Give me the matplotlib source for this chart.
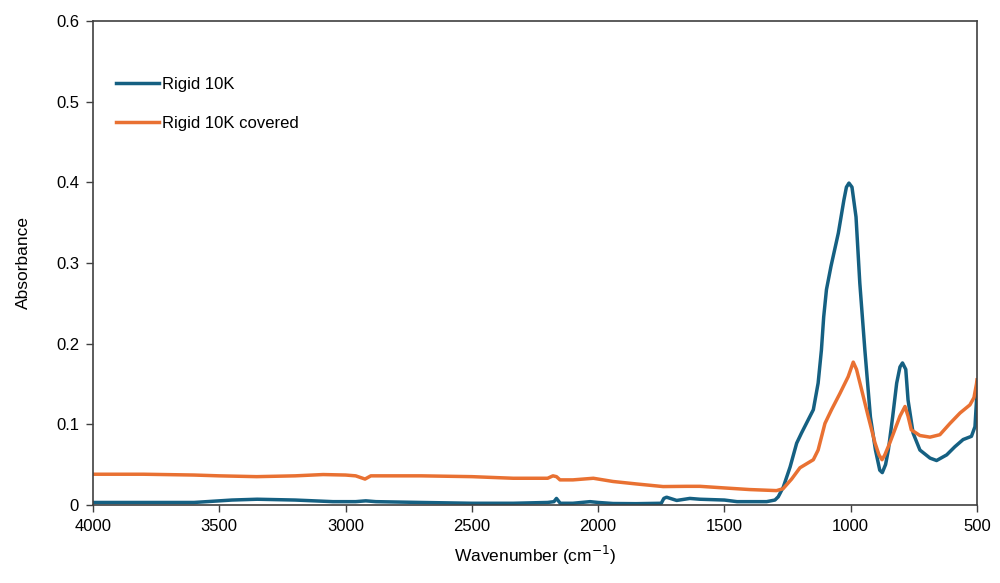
import matplotlib.pyplot as plt

# FTIR spectra
wn_rigid = [4000, 3800, 3600, 3450, 3350, 3200, 3050, 2960, 2920, 2880, 2700, 2500, 2336,
            2200, 2175, 2165, 2150, 2100, 2032, 2000, 1941, 1850, 1750, 1740, 1729, 1689,
            1637, 1597, 1500, 1450, 1400, 1333, 1300, 1287, 1267, 1240, 1214, 1195, 1148,
            1129, 1116, 1107, 1096, 1078, 1049, 1027, 1017, 1007, 995, 979, 964, 944, 922,
            902, 885, 875, 862, 851, 834, 818, 805, 795, 782, 773, 753, 726, 686, 660, 620,
            588, 555, 522, 508, 500]
abs_rigid = [0.003, 0.003, 0.003, 0.006, 0.007, 0.006, 0.004, 0.004, 0.005, 0.004, 0.003, 0.002, 0.002,
             0.003, 0.004, 0.008, 0.002, 0.002, 0.004, 0.003, 0.0017, 0.0015, 0.002, 0.008, 0.0095, 0.0055,
             0.008, 0.007, 0.006, 0.004, 0.004, 0.004, 0.006, 0.010, 0.022, 0.047, 0.0765, 0.089, 0.118,
             0.151, 0.192, 0.233, 0.267, 0.296, 0.337, 0.378, 0.394, 0.399, 0.394, 0.357, 0.275, 0.192, 0.109,
             0.068, 0.043, 0.040, 0.050, 0.068, 0.109, 0.151, 0.171, 0.176, 0.168, 0.130, 0.089, 0.068, 0.058,
             0.055, 0.062, 0.072, 0.081, 0.085, 0.097, 0.14]

wn_covered = [4000, 3800, 3600, 3500, 3352, 3200, 3089, 3000, 2960, 2923, 2900, 2824, 2700,
              2500, 2336, 2200, 2179, 2165, 2151, 2100, 2019, 1941, 1850, 1743, 1650, 1597,
              1500, 1400, 1294, 1268, 1234, 1201, 1148, 1129, 1102, 1076, 1043, 1010, 990, 977,
              957, 931, 904, 888, 876, 865, 845, 805, 785, 773, 760, 726, 686, 647, 607, 567,
              528, 512, 502, 500]
abs_covered = [0.038, 0.038, 0.037, 0.036, 0.035, 0.036, 0.0376, 0.037, 0.036, 0.032, 0.036, 0.036, 0.036,
               0.035, 0.033, 0.033, 0.036, 0.035, 0.031, 0.031, 0.033, 0.029, 0.026, 0.0227, 0.023, 0.023,
               0.021, 0.019, 0.0177, 0.020, 0.032, 0.046, 0.056, 0.068, 0.101, 0.118, 0.138, 0.159, 0.177, 0.168,
               0.143, 0.110, 0.077, 0.062, 0.056, 0.062, 0.077, 0.110, 0.122, 0.110, 0.093, 0.086, 0.084, 0.087,
               0.101, 0.114, 0.124, 0.133, 0.15, 0.155]

xticks = [4000, 3500, 3000, 2500, 2000, 1500, 1000, 500]
yticks = [0, 0.1, 0.2, 0.3, 0.4, 0.5, 0.6]
ytick_labels = ['0', '0.1', '0.2', '0.3', '0.4', '0.5', '0.6']

plt.rcParams['font.family'] = ['Liberation Sans', 'DejaVu Sans']

fig = plt.figure(figsize=(10, 5.83), dpi=100)
ax = fig.add_axes([0.093, 0.134, 0.884, 0.830])

ax.plot(wn_rigid, abs_rigid, color='#156082', lw=2.5, label='Rigid 10K')
ax.plot(wn_covered, abs_covered, color='#E97132', lw=2.5, label='Rigid 10K covered')

ax.set_xlim(4000, 500)
ax.set_ylim(0, 0.6)
ax.set_xticks(xticks)
ax.set_yticks(yticks)
ax.set_yticklabels(ytick_labels)
ax.tick_params(direction='out', length=5, width=1, color='#404040', labelsize=12, pad=5)
for s in ax.spines.values():
    s.set_color('#404040')
    s.set_linewidth(1.2)

ax.set_xlabel('Wavenumber (cm$^{-1}$)', fontsize=12.5, labelpad=7)
ax.set_ylabel('Absorbance', fontsize=12.5, labelpad=18)

ax.legend(loc='upper left', bbox_to_anchor=(0.018, 0.898), borderaxespad=0, frameon=False,
          fontsize=12, handlelength=2.6, handletextpad=0.2, labelspacing=1.45)

fig.savefig('out.png', dpi=100)
